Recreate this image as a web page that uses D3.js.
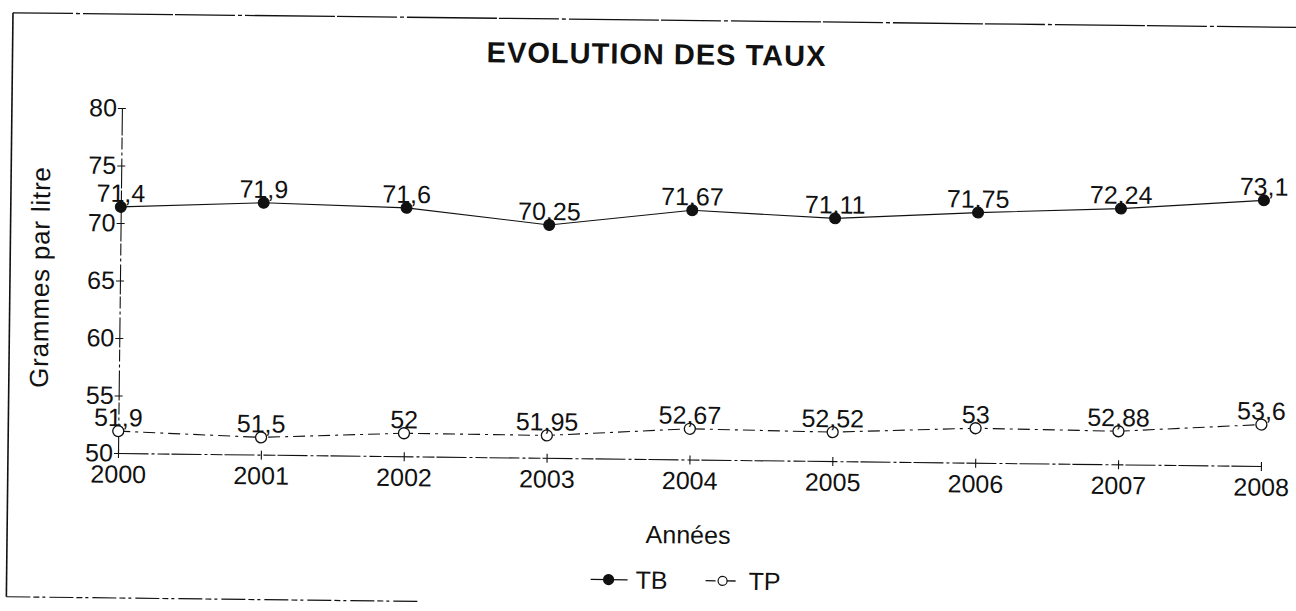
<!DOCTYPE html>
<html>
<head>
<meta charset="utf-8">
<script src="https://cdn.jsdelivr.net/npm/d3@7"></script>
<style>
  body { margin: 0; background: #fff; }
  svg { display: block; font-family: "Liberation Sans", Arial, sans-serif; }
</style>
</head>
<body>
<svg id="chart"></svg>
<script>
const width = 1296;
const height = 611;

// data
const years = ["2000", "2001", "2002", "2003", "2004", "2005", "2006", "2007", "2008"];
const tbValues = [71.4, 71.9, 71.6, 70.25, 71.67, 71.11, 71.75, 72.24, 73.1];
const tpValues = [51.9, 51.5, 52, 51.95, 52.67, 52.52, 53, 52.88, 53.6];
const yTicks = [50, 55, 60, 65, 70, 75, 80];

const ink = "#111";
const fmt = v => String(v).replace(".", ",");

const svg = d3.select("#chart").attr("width", width).attr("height", height);
svg.append("rect").attr("width", width).attr("height", height).attr("fill", "#fff");

// the original is a slightly tilted scan, so the whole drawing is turned a bit
const ox = 118, oy = 453;
const root = svg.append("g").attr("transform", `rotate(0.65,${ox},${oy})`);

const x = d3.scalePoint().domain(years).range([ox, 1261]);
const y = d3.scaleLinear().domain([50, 80]).range([oy, 108]);

// frame
const frame = root.append("g").attr("stroke", ink).attr("fill", "none");
frame.append("line").attr("x1", 8).attr("y1", 14).attr("x2", 1320).attr("y2", 14)
  .attr("stroke-width", 1.3).attr("stroke-dasharray", "60,3,4,3,90,2");
frame.append("line").attr("x1", 8).attr("y1", 14).attr("x2", 8).attr("y2", 598)
  .attr("stroke-width", 1.6);
frame.append("line").attr("x1", 8).attr("y1", 598).attr("x2", 420).attr("y2", 598)
  .attr("stroke-width", 1.2).attr("stroke-dasharray", "24,3,6,3,3,4");

// title
root.append("text")
  .attr("x", 652).attr("y", 58)
  .attr("text-anchor", "middle")
  .attr("font-size", 29).attr("font-weight", "bold").attr("letter-spacing", 1)
  .attr("fill", ink)
  .text("EVOLUTION DES TAUX");

// axes
const xAxis = root.append("g")
  .attr("transform", `translate(0,${oy})`)
  .call(d3.axisBottom(x).tickSizeOuter(0).tickSizeInner(4).tickPadding(10));
const yAxis = root.append("g")
  .attr("transform", `translate(${ox},0)`)
  .call(d3.axisLeft(y).tickValues(yTicks).tickSizeOuter(0).tickSizeInner(4).tickPadding(4));

[xAxis, yAxis].forEach(a => {
  a.select(".domain").attr("stroke", ink).attr("stroke-width", 1.1)
    .attr("stroke-dasharray", "30,3,3,3,12,2");
  a.selectAll(".tick line").attr("stroke", ink).attr("stroke-width", 1.1);
  a.selectAll(".tick text").attr("font-size", 25).attr("fill", ink)
    .attr("font-family", "Liberation Sans, Arial, sans-serif");
});
xAxis.selectAll(".tick line").attr("y1", -4).attr("y2", 5);
xAxis.selectAll(".tick text").attr("dy", "0.71em").attr("y", 12);
yAxis.selectAll(".tick line").attr("x1", 4).attr("x2", -4);
yAxis.selectAll(".tick text").attr("x", -5);

// axis titles
root.append("text")
  .attr("transform", "translate(38,278) rotate(-90)")
  .attr("text-anchor", "middle").attr("dominant-baseline", "central")
  .attr("font-size", 26).attr("letter-spacing", 0.8).attr("fill", ink)
  .text("Grammes par litre");
root.append("text")
  .attr("x", 689).attr("y", 537)
  .attr("text-anchor", "middle")
  .attr("font-size", 25).attr("fill", ink)
  .text("Années");

// series
const series = [
  { name: "TB", values: tbValues, dash: null, filled: true },
  { name: "TP", values: tpValues, dash: "12,5,3,5", filled: false }
];

const line = d3.line().x(d => x(d.year)).y(d => y(d.value));

series.forEach(s => {
  const pts = years.map((year, i) => ({ year, value: s.values[i] }));
  const g = root.append("g").attr("class", "series-" + s.name);

  g.append("path")
    .datum(pts)
    .attr("d", line)
    .attr("fill", "none")
    .attr("stroke", ink)
    .attr("stroke-width", 1.1)
    .attr("stroke-dasharray", s.dash);

  g.selectAll("circle")
    .data(pts)
    .join("circle")
    .attr("cx", d => x(d.year))
    .attr("cy", d => y(d.value))
    .attr("r", 5.5)
    .attr("fill", s.filled ? ink : "#fff")
    .attr("stroke", ink)
    .attr("stroke-width", s.filled ? 1 : 1.3);

  g.selectAll("text")
    .data(pts)
    .join("text")
    .attr("x", d => x(d.year))
    .attr("y", d => y(d.value) - 5)
    .attr("text-anchor", "middle")
    .attr("font-size", 25)
    .attr("fill", ink)
    .text(d => fmt(d.value));
});

// legend
const legend = root.append("g").attr("transform", "translate(0,574)");
const legendItems = [
  { name: "TB", x1: 592, x2: 629, cx: 610, tx: 637, dash: null, filled: true },
  { name: "TP", x1: 707, x2: 738, cx: 724, tx: 750, dash: "10,4,2,4", filled: false }
];
legendItems.forEach(l => {
  legend.append("line")
    .attr("x1", l.x1).attr("x2", l.x2).attr("y1", 0).attr("y2", 0)
    .attr("stroke", ink).attr("stroke-width", 1.3)
    .attr("stroke-dasharray", l.dash);
  legend.append("circle")
    .attr("cx", l.cx).attr("cy", 0).attr("r", l.filled ? 5 : 4.5)
    .attr("fill", l.filled ? ink : "#fff")
    .attr("stroke", ink).attr("stroke-width", 1.2);
  legend.append("text")
    .attr("x", l.tx).attr("y", 0).attr("dy", "0.35em")
    .attr("font-size", 25).attr("fill", ink)
    .text(l.name);
});
</script>
</body>
</html>
